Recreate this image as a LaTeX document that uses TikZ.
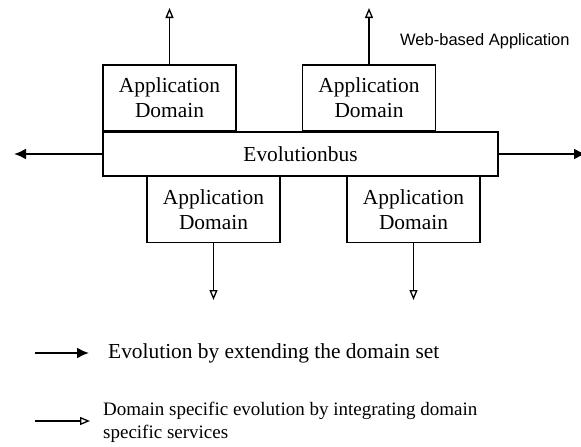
\documentclass[tikz,border=0pt]{standalone}
\usepackage{fontspec}
\setmainfont{Liberation Serif}
\newfontfamily\websans{Liberation Sans}
\usetikzlibrary{arrows.meta}
\begin{document}
\begin{tikzpicture}[x=1pt,y=-1pt,
    domainbox/.style={draw, line width=1.2pt, fill=white, minimum width=133pt, minimum height=66pt,
        inner sep=0pt, align=center, font=\fontsize{21.4}{25}\selectfont},
    busbox/.style={draw, line width=1.2pt, fill=white, minimum width=395pt, minimum height=44pt,
        inner sep=0pt, font=\fontsize{21.4}{25}\selectfont},
    extarrow/.style={line width=2pt, -{Latex[length=12pt,width=11pt]}},
    domarrow/.style={line width=1.3pt, -{Triangle[open,length=10pt,width=8pt]}},
    legendtext/.style={anchor=west, inner sep=0pt, align=left}]

\clip (0,0) rectangle (581,447);

%bus et domaines

\node[busbox] (bus) at (300.5,154) {Evolutionbus};
\node[domainbox] (topleft) at (169.5,98) {Application\\Domain};
\node[domainbox] (topright) at (369,98) {Application\\Domain};
\node[domainbox] (botleft) at (213.5,209.5) {Application\\Domain};
\node[domainbox] (botright) at (413.5,209.5) {Application\\Domain};

\node[anchor=west, inner sep=0pt, font=\websans\fontsize{16.5}{19}\selectfont] (web) at (400,41) {Web-based Application};

%extension de l'ensemble des domaines

\coordinate (leftend) at (14,154);
\coordinate (rightend) at (586,154);
\draw[extarrow] (bus.west) -- (leftend);
\draw[extarrow] (bus.east) -- (rightend);

%evolution specifique

\coordinate (upleft) at (169.5,8);
\coordinate (upright) at (369,8);
\coordinate (downleft) at (213.5,300);
\coordinate (downright) at (413.5,300);
\draw[domarrow] (topleft.north) -- (upleft);
\draw[domarrow] (topright.north) -- (upright);
\draw[domarrow] (botleft.south) -- (downleft);
\draw[domarrow] (botright.south) -- (downright);

%legende

\coordinate (extstart) at (35,353);
\coordinate (extstop) at (89,353);
\draw[extarrow] (extstart) -- (extstop);
\node[legendtext, font=\fontsize{21.4}{25}\selectfont] (extlabel) at (108,353) {Evolution by extending the domain set};

\coordinate (domstart) at (35,421);
\coordinate (domstop) at (90,421);
\draw[domarrow] (domstart) -- (domstop);
\node[legendtext, font=\fontsize{19}{23}\selectfont] (domlabel) at (103,422) {Domain specific evolution by integrating domain\\specific services};
\end{tikzpicture}
\end{document}
